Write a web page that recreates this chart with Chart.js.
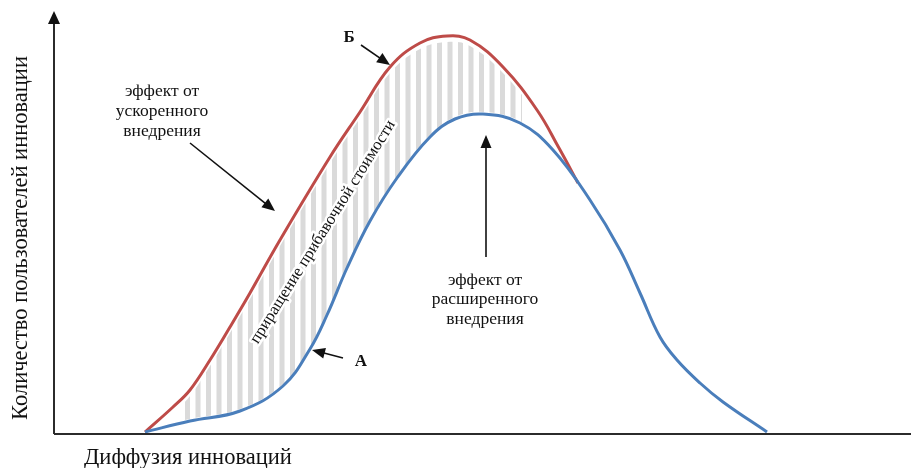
<!DOCTYPE html>
<html>
<head>
<meta charset="utf-8">
<script src="https://cdn.jsdelivr.net/npm/chart.js@4"></script>
<style>
    body { margin: 0; background: #fff; }
    #wrap { width: 911px; height: 468px; position: relative; }
</style>
</head>
<body>
<div id="wrap"><canvas id="diffusionChart"></canvas></div>
<script>
// curve A (blue) - ordinary adoption
const diffusionA = [91, 136, 186, 229, 256, 273, 293, 316, 343, 376, 401, 429, 466, 499, 536, 566, 586, 606, 623, 646, 669, 713];
const usersA = [2, 13, 23, 48, 85, 119, 166, 213, 256, 297, 315, 320, 311, 284, 234, 184, 141, 97, 74, 51, 32, 2];

// curve Б (red) - accelerated adoption, joins A on the way down
const diffusionB = [91, 119, 136, 156, 176, 196, 226, 276, 306, 336, 366, 393, 416, 449, 483, 505, 524];
const usersB = [2, 27, 44, 74, 107, 141, 194, 277, 322, 367, 391, 398, 394, 367, 324, 286, 251];

// hatched zone between the curves
const hatchFrom = 131;
const hatchTo = 468;

const axisTitleX = 'Диффузия инноваций';
const axisTitleY = 'Количество пользователей инновации';

const serif = '"Liberation Serif", "Times New Roman", serif';

function toPoints(xs, ys) {
    return xs.map((v, i) => ({ x: v, y: ys[i] }));
}

function arrow(ctx, x1, y1, x2, y2) {
    const ang = Math.atan2(y2 - y1, x2 - x1);
    const len = 13, half = 5.5;
    ctx.beginPath();
    ctx.moveTo(x1, y1);
    ctx.lineTo(x2 - Math.cos(ang) * len * 0.8, y2 - Math.sin(ang) * len * 0.8);
    ctx.stroke();
    ctx.beginPath();
    ctx.moveTo(x2, y2);
    ctx.lineTo(x2 - Math.cos(ang) * len - Math.sin(ang) * half, y2 - Math.sin(ang) * len + Math.cos(ang) * half);
    ctx.lineTo(x2 - Math.cos(ang) * len + Math.sin(ang) * half, y2 - Math.sin(ang) * len - Math.cos(ang) * half);
    ctx.closePath();
    ctx.fill();
}

const hatchPlugin = {
    id: 'hatch',
    beforeDatasetsDraw(chart) {
        const { ctx, scales: { x } } = chart;
        const blue = chart.getDatasetMeta(0).dataset;
        const red = chart.getDatasetMeta(1).dataset;
        blue.updateControlPoints(chart.chartArea, 'x');
        red.updateControlPoints(chart.chartArea, 'x');
        const left = x.getPixelForValue(hatchFrom);
        const right = x.getPixelForValue(hatchTo);
        const H = chart.height;

        ctx.save();
        ctx.beginPath();
        ctx.rect(left, 0, right - left, H);
        ctx.clip();

        // below the red curve (a little gap)
        ctx.translate(0, 6);
        ctx.beginPath();
        red.path(ctx);
        ctx.lineTo(x.getPixelForValue(diffusionB[diffusionB.length - 1]), H + 60);
        ctx.lineTo(x.getPixelForValue(diffusionB[0]) - 60, H + 60);
        ctx.closePath();
        ctx.translate(0, -6);
        ctx.clip();

        // above the blue curve
        ctx.translate(0, -2);
        ctx.beginPath();
        blue.path(ctx);
        ctx.lineTo(x.getPixelForValue(diffusionA[diffusionA.length - 1]), -60);
        ctx.lineTo(x.getPixelForValue(diffusionA[0]) - 60, -60);
        ctx.closePath();
        ctx.translate(0, 2);
        ctx.clip();

        ctx.fillStyle = '#dadada';
        for (let px = left; px < right; px += 10.5) {
            ctx.fillRect(px, 0, 5, H);
        }
        ctx.restore();
    }
};

const decorPlugin = {
    id: 'decor',
    afterDraw(chart) {
        const { ctx, chartArea: a, scales: { x, y } } = chart;
        const X = v => x.getPixelForValue(v);
        const Y = v => y.getPixelForValue(v);

        ctx.save();
        // axes
        ctx.strokeStyle = '#2b2b2b';
        ctx.fillStyle = '#111';
        ctx.lineWidth = 2;
        ctx.beginPath();
        ctx.moveTo(a.left, a.bottom);
        ctx.lineTo(a.right, a.bottom);
        ctx.stroke();
        ctx.beginPath();
        ctx.moveTo(a.left, a.bottom);
        ctx.lineTo(a.left, 20);
        ctx.stroke();
        ctx.beginPath();
        ctx.moveTo(a.left, 11);
        ctx.lineTo(a.left - 6, 24);
        ctx.lineTo(a.left + 6, 24);
        ctx.closePath();
        ctx.fill();

        // axis titles
        ctx.fillStyle = '#111';
        ctx.font = '22.5px ' + serif;
        ctx.textAlign = 'left';
        ctx.textBaseline = 'middle';
        ctx.fillText(axisTitleX, 84, 458);
        ctx.save();
        ctx.translate(21, 238);
        ctx.rotate(-Math.PI / 2);
        ctx.textAlign = 'center';
        ctx.fillText(axisTitleY, 0, 0);
        ctx.restore();

        // annotations
        ctx.font = '17.5px ' + serif;
        ctx.textAlign = 'center';
        ['эффект от', 'ускоренного', 'внедрения'].forEach((t, i) => {
            ctx.fillText(t, X(108), Y(343) + i * 20);
        });
        ['эффект от', 'расширенного', 'внедрения'].forEach((t, i) => {
            ctx.fillText(t, X(431), Y(154) + i * 19.5);
        });

        ctx.font = 'bold 17px ' + serif;
        ctx.fillText('Б', X(295), Y(396));
        ctx.fillText('А', X(307), Y(72));

        ctx.strokeStyle = '#111';
        ctx.lineWidth = 1.6;
        arrow(ctx, X(136), Y(291), X(221), Y(223));
        arrow(ctx, X(307), Y(389), X(336), Y(369));
        arrow(ctx, X(289), Y(76), X(258), Y(84));
        arrow(ctx, X(432), Y(177), X(432), Y(299));

        // rotated label in the hatched zone
        ctx.save();
        ctx.translate(X(269), Y(202));
        ctx.rotate(-58 * Math.PI / 180);
        ctx.font = '16.5px ' + serif;
        ctx.lineJoin = 'round';
        ctx.strokeStyle = '#fff';
        ctx.lineWidth = 5;
        ctx.strokeText('приращение прибавочной стоимости', 0, 0);
        ctx.fillStyle = '#111';
        ctx.fillText('приращение прибавочной стоимости', 0, 0);
        ctx.restore();

        ctx.restore();
    }
};

new Chart(document.getElementById('diffusionChart'), {
    type: 'line',
    data: {
        datasets: [
            {
                label: 'А',
                data: toPoints(diffusionA, usersA),
                borderColor: '#4a7ebb',
                borderWidth: 3,
                pointRadius: 0,
                tension: 0.4,
                fill: false,
                order: 0
            },
            {
                label: 'Б',
                data: toPoints(diffusionB, usersB),
                borderColor: '#be4b48',
                borderWidth: 3,
                pointRadius: 0,
                tension: 0.4,
                fill: false,
                order: 1
            }
        ]
    },
    options: {
        responsive: true,
        maintainAspectRatio: false,
        animation: false,
        layout: {
            autoPadding: false,
            padding: { left: 54, bottom: 34, top: 0, right: 0 }
        },
        scales: {
            x: { type: 'linear', min: 0, max: 857, display: false },
            y: { type: 'linear', min: 0, max: 434, display: false }
        },
        plugins: {
            legend: { display: false },
            tooltip: { enabled: false }
        }
    },
    plugins: [hatchPlugin, decorPlugin]
});
</script>
</body>
</html>
